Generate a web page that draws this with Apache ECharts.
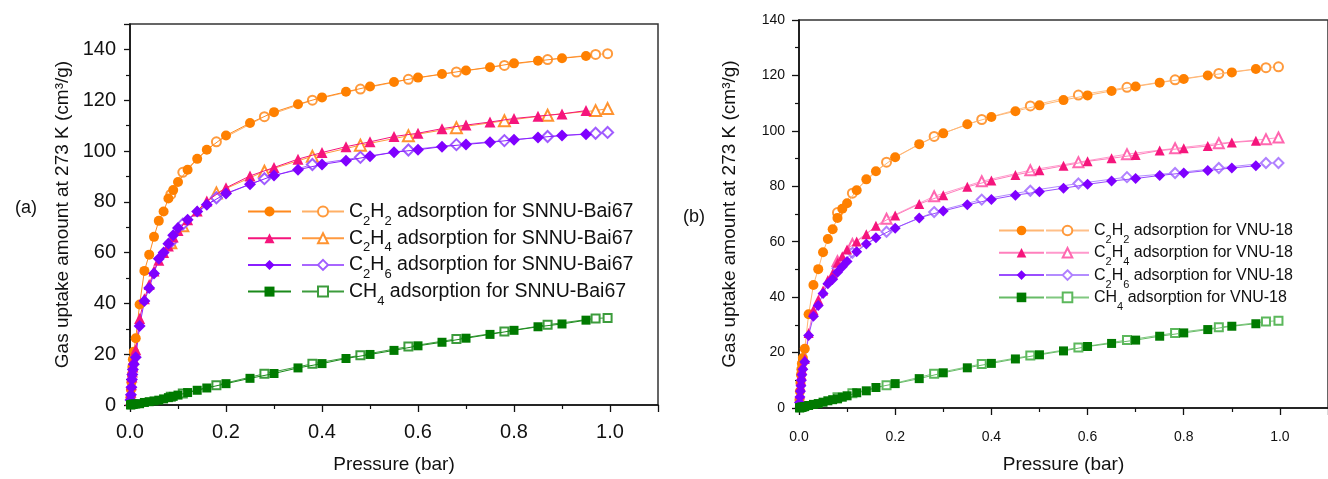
<!DOCTYPE html>
<html><head><meta charset="utf-8">
<script src="https://cdn.jsdelivr.net/npm/echarts@6/dist/echarts.min.js"></script>
<style>html,body{margin:0;padding:0;background:#fff}#c{width:1328px;height:479px}</style>
</head><body><div id="c"></div><script>
// ---------- Panel (a): SNNU-Bai67 ----------
const aAdsP = [0.001,0.002,0.003,0.004,0.005,0.006,0.008,0.012,0.02,0.03,0.04,0.05,0.06,0.07,0.08,0.09,0.1,0.12,0.14,0.16,0.2,0.25,0.3,0.35,0.4,0.45,0.5,0.55,0.6,0.65,0.7,0.75,0.8,0.85,0.9,0.95];
const aDesP = [0.995,0.97,0.87,0.78,0.68,0.58,0.48,0.38,0.28,0.18,0.11,0.085];
const aC2H2ads = [3,6,9,12,15,18,21,26.3,39.6,52.8,59.2,66.2,72.5,76.2,81.3,84.6,87.8,92.6,96.9,100.5,106.1,111,115.3,118.4,121.1,123.3,125.4,127.2,128.9,130.3,131.7,133,134.5,135.5,136.5,137.4];
const aC2H4ads = [2,5,8,11,13,15,18,21.8,34.1,41.8,47.4,52.8,57,60,62.6,66.1,68.7,72.9,76.4,80.3,85.5,90.2,93.5,96.8,99.4,101.7,103.6,105.7,107,108.8,110.2,111.4,112.8,113.7,114.6,115.9];
const aC2H6ads = [2,4,7,10,12,14,16,18.8,31.1,40.9,46.1,51.8,57.6,60,63.5,66.8,69.7,72.9,76.2,78.8,83.3,86.9,90.4,92.6,94.7,96.2,97.9,99.5,100.5,101.7,102.6,103.4,104.4,105.3,106.1,106.6];
const aCH4ads  = [0.05,0.1,0.15,0.2,0.25,0.3,0.35,0.4,0.5,1.0,1.3,1.6,1.9,2.4,2.9,3.4,3.9,4.9,5.8,6.7,8.4,10.5,12.4,14.6,16.3,18.3,19.9,21.5,23.3,24.7,26.3,27.8,29.4,30.8,31.9,33.4];
const aC2H2des = [138.3,138,136,133.7,131.1,128.2,124.4,120,113.5,103.6,91.6,82.9];
const aC2H4des = [116.7,115.9,114.1,111.9,109.2,106,102.3,97.9,92,83.5,70.6,63.9];
const aC2H6des = [107.3,107,105.7,104.1,102.5,100.4,97.5,94.7,89.1,81.6,71.2,64.1];
const aCH4des  = [34.3,34.1,31.6,28.9,26,23,19.6,16.2,12.3,7.8,4.5,3.2];

// ---------- Panel (b): VNU-18 ----------
const bAdsP = [0.001,0.002,0.003,0.004,0.005,0.006,0.008,0.012,0.02,0.03,0.04,0.05,0.06,0.07,0.08,0.09,0.1,0.12,0.14,0.16,0.2,0.25,0.3,0.35,0.4,0.45,0.5,0.55,0.6,0.65,0.7,0.75,0.8,0.85,0.9,0.95];
const bDesP = [0.997,0.971,0.873,0.782,0.682,0.581,0.481,0.38,0.281,0.182,0.111,0.08];
const bC2H2ads = [3,6,9,12,14,16,18,21.4,33.8,44.4,50.1,56.2,61,64.5,68.6,71.9,73.9,78.6,82.5,85.4,90.5,95.2,99.1,102.4,105,107.1,109.2,111.1,112.8,114.4,116,117.4,118.7,120,121.1,122.3];
const bC2H4ads = [2,5,8,10,12,14,15.5,17.7,27.1,35.4,39.1,42.4,46.2,48.5,52.4,54.8,57.2,60.1,62.7,65.8,69.5,73.6,76.8,79.8,82.1,84.1,85.8,87.4,89,90.1,91.3,92.9,93.7,94.5,95.8,96.4];
const bC2H6ads = [2,4,6,8,10,12,14,16.7,26.2,33.1,37,41.3,44.8,46.5,49,51,52.9,56.4,59.2,61.4,64.9,68.6,71.1,73.3,75.2,76.8,78,79.3,80.7,81.9,82.8,83.9,84.8,85.7,86.6,87.4];
const bCH4ads  = [0.05,0.1,0.15,0.2,0.25,0.3,0.35,0.5,0.9,1.3,1.6,2.1,2.6,3,3.3,3.9,4.4,5.5,6.2,7.4,8.8,10.6,12.7,14.5,16.1,17.7,19.2,20.6,22.2,23.3,24.5,25.9,27.1,28.3,29.5,30.4];
const bC2H2des = [123.1,122.8,120.7,118.4,115.7,112.9,109,104.1,98,88.7,77.5,70.5];
const bC2H4des = [97.6,97,95.5,93.7,91.6,88.7,85.8,81.8,76.4,68.3,59.2,53];
const bC2H6des = [88.4,88.4,86.6,84.8,83.3,81,78.4,75.2,70.7,63.6,56,50.4];
const bCH4des  = [31.5,31.2,29.1,27.1,24.5,21.8,18.9,15.9,12.4,8.2,5.3,3.9];

const gasesA = ['C2H2','C2H4','C2H6','CH4'];
const yTitle = 'Gas uptake amount at 273 K (cm³/g)';
const xTitle = 'Pressure (bar)';

const zip = (xs, ys) => xs.map((x, i) => [x, ys[i]]);
const FONT = "'Liberation Sans', Arial, sans-serif";

function gasRich(gas, suffix) {
  const m = gas.match(/^([A-Z])(\d?)([A-Z])(\d)$/);
  return '{n|' + m[1] + '}' + (m[2] ? '{s|' + m[2] + '}' : '') + '{n|' + m[3] + '}{s|' + m[4] + '}{n| ' + suffix + '}';
}

function series(name, xi, pts, sym, size, color, lineColor, empty, lw) {
  return {
    name: name, type: 'line', xAxisIndex: xi, yAxisIndex: xi,
    data: pts, symbol: sym, symbolSize: size, showSymbol: true,
    lineStyle: {color: lineColor, width: lw},
    itemStyle: empty ? {color: color, borderWidth: 1.3} : {color: color, borderWidth: 0},
    emphasis: {disabled: true}, animation: false, z: empty ? 2 : 3
  };
}

const aSuffix = 'adsorption for SNNU-Bai67';
const bSuffix = 'adsorption for VNU-18';
const aStyle = {
  C2H2: {f: ['circle', 10, '#ff8000', '#ff8a1f'], o: ['emptyCircle', 9, '#ff9a3c', '#ffb066']},
  C2H4: {f: ['triangle', 11, '#f5157c', '#f5157c'], o: ['emptyTriangle', 11, '#ff9330', '#ff9a40']},
  C2H6: {f: ['diamond', 12, '#7f00ff', '#8a1fff'], o: ['emptyDiamond', 11, '#a05cff', '#a866ff']},
  CH4:  {f: ['rect', 9, '#007a00', '#1a8a1a'], o: ['emptyRect', 8, '#3c9c3c', '#3c9c3c']}
};
const bStyle = {
  C2H2: {f: ['circle', 10, '#ff8000', '#ffb673'], o: ['emptyCircle', 9, '#ff9a3c', '#ffc08a']},
  C2H4: {f: ['triangle', 10, '#f5157c', '#ff7fbd'], o: ['emptyTriangle', 10, '#ff66b0', '#ff99cc']},
  C2H6: {f: ['diamond', 11, '#7f00ff', '#9a4dff'], o: ['emptyDiamond', 10, '#b080ff', '#b38cff']},
  CH4:  {f: ['rect', 9, '#007a00', '#66bb66'], o: ['emptyRect', 8, '#5cb85c', '#80c880']}
};
const aAds = {C2H2: aC2H2ads, C2H4: aC2H4ads, C2H6: aC2H6ads, CH4: aCH4ads};
const aDes = {C2H2: aC2H2des, C2H4: aC2H4des, C2H6: aC2H6des, CH4: aCH4des};
const bAds = {C2H2: bC2H2ads, C2H4: bC2H4ads, C2H6: bC2H6ads, CH4: bCH4ads};
const bDes = {C2H2: bC2H2des, C2H4: bC2H4des, C2H6: bC2H6des, CH4: bCH4des};

const allSeries = [];
const legAF = [], legAO = [], legBF = [], legBO = [];
gasesA.forEach(g => {
  const nA = g + ' ' + aSuffix, nB = g + ' ' + bSuffix;
  const sa = aStyle[g], sb = bStyle[g];
  allSeries.push(series(nA, 0, zip(aDesP, aDes[g]), sa.o[0], sa.o[1], sa.o[2], sa.o[3], true, 1));
  allSeries.push(series(nA + ' ', 0, zip(aAdsP, aAds[g]), sa.f[0], sa.f[1], sa.f[2], sa.f[3], false, 1));
  allSeries.push(series(nB, 1, zip(bDesP, bDes[g]), sb.o[0], sb.o[1], sb.o[2], sb.o[3], true, 1));
  allSeries.push(series(nB + ' ', 1, zip(bAdsP, bAds[g]), sb.f[0], sb.f[1], sb.f[2], sb.f[3], false, 1));
  legAF.push(nA + ' '); legAO.push(nA); legBF.push(nB + ' '); legBO.push(nB);
});

function legendFmt(suffix) {
  return name => gasRich(name.trim().split(' ')[0], suffix);
}
function mkLegend(data, left, top, iw, ih, gap, suffix, visibleText, fs, sfs, lh, subPad) {
  return {
    data: data, left: left, top: top, orient: 'vertical', itemWidth: iw, itemHeight: ih,
    itemGap: gap, selectedMode: false, padding: 0,
    formatter: legendFmt(suffix),
    textStyle: {
      color: visibleText ? '#111' : 'rgba(0,0,0,0)', fontFamily: FONT, lineHeight: lh,
      rich: {
        n: {fontSize: fs, lineHeight: lh, fontFamily: FONT},
        s: {fontSize: sfs, lineHeight: sfs, padding: [subPad, 0, 0, 0], fontFamily: FONT}
      }
    }
  };
}

function xAx(gi, fs, margin, nameGap, nameFs, tickLen) {
  return {
    gridIndex: gi, type: 'value', min: 0, max: 1.1, interval: 0.2,
    name: xTitle, nameLocation: 'middle', nameGap: nameGap,
    nameTextStyle: {fontSize: nameFs, fontFamily: FONT, color: '#111'},
    axisLine: {onZero: false, lineStyle: {color: '#111', width: 1.6}},
    axisTick: {inside: false, length: tickLen, lineStyle: {color: '#111', width: 1.3}},
    minorTick: {show: true, splitNumber: 2, length: 4, lineStyle: {color: '#111', width: 1.2}},
    axisLabel: {fontSize: fs, fontFamily: FONT, color: '#111', margin: margin, showMaxLabel: false,
      formatter: v => v.toFixed(1)},
    splitLine: {show: false}
  };
}
function yAx(gi, max, fs, margin, nameGap, nameFs, tickLen) {
  return {
    gridIndex: gi, type: 'value', min: 0, max: max, interval: 20,
    name: yTitle, nameLocation: 'middle', nameGap: nameGap, nameRotate: 90,
    nameTextStyle: {fontSize: nameFs, fontFamily: FONT, color: '#111'},
    axisLine: {onZero: false, lineStyle: {color: '#111', width: 1.6}},
    axisTick: {inside: false, length: tickLen, lineStyle: {color: '#111', width: 1.3}},
    minorTick: {show: true, splitNumber: 2, length: 4, lineStyle: {color: '#111', width: 1.2}},
    axisLabel: {fontSize: fs, fontFamily: FONT, color: '#111', margin: margin, showMaxLabel: max % 20 === 0},
    splitLine: {show: false}
  };
}

const chart = echarts.init(document.getElementById('c'), null, {renderer: 'canvas'});
chart.setOption({
  backgroundColor: '#fff',
  animation: false,
  title: [
    {text: '(a)', left: 10, top: 194, textStyle: {fontSize: 18, fontWeight: 'normal', fontFamily: FONT, color: '#111'}},
    {text: '(b)', left: 678, top: 203, textStyle: {fontSize: 18, fontWeight: 'normal', fontFamily: FONT, color: '#111'}}
  ],
  grid: [
    {left: 130, top: 24, width: 528, height: 386, show: true, borderColor: '#333', borderWidth: 1.5},
    {left: 799, top: 20, width: 537, height: 397, show: true, borderColor: '#333', borderWidth: 1.5}
  ],
  xAxis: [xAx(0, 20, 17, 50, 19, 7), xAx(1, 14, 22, 47, 19, 7)],
  yAxis: [yAx(0, 150, 20, 14, 58, 19, 6), yAx(1, 140, 14, 14, 60, 19, 7)],
  legend: [
    mkLegend(legAF, 247, 195.5, 43, 12.5, -5.3, aSuffix, false, 19.5, 13, 22, 19),
    mkLegend(legAO, 301, 195.5, 42, 12.5, -5.3, aSuffix, true, 19.5, 13, 22, 19),
    mkLegend(legBF, 998, 215.5, 45, 12, -7.7, bSuffix, false, 16, 11, 18, 19),
    mkLegend(legBO, 1045, 215.5, 43, 12, -7.7, bSuffix, true, 16, 11, 18, 19)
  ],
  series: allSeries
});
</script></body></html>
